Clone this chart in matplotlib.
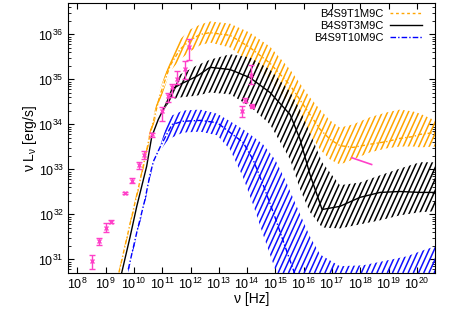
import numpy as np
import matplotlib
matplotlib.use("Agg")
import matplotlib.pyplot as plt
from matplotlib.collections import LineCollection
from matplotlib.lines import Line2D

plt.rcParams['font.family'] = ['Liberation Sans', 'DejaVu Sans']
plt.rcParams['mathtext.default'] = 'regular'

# all values are log10(nu [Hz]) and log10(nu L_nu [erg/s])
# B4S9T1M9C (orange)
t1_x = [9.47, 9.86, 10.22, 10.57, 10.92, 11.28, 11.63, 11.98, 12.34, 12.69, 13.40, 14.10,
        14.81, 15.52, 16.22, 16.58, 16.93, 17.28, 17.74, 18.34, 18.94, 19.40, 19.86, 20.11, 20.64]
t1_hi = [30.76, 31.84, 32.82, 33.89, 34.78, 35.44, 35.89, 36.11, 36.22, 36.29, 36.24, 36.04,
         35.73, 35.22, 34.60, 34.33, 34.09, 33.93, 34.00, 34.16, 34.27, 34.33, 34.29, 34.24, 34.09]
t1_lo = [30.67, 31.71, 32.67, 33.67, 34.51, 35.18, 35.44, 35.62, 35.76, 35.82, 35.71, 35.38,
         35.00, 34.44, 33.78, 33.44, 33.22, 33.11, 33.22, 33.38, 33.47, 33.51, 33.51, 33.49, 33.51]
t1_mid = [30.71, 31.78, 32.76, 33.78, 34.65, 35.31, 35.67, 35.87, 36.00, 36.04, 35.98, 35.71,
          35.36, 34.87, 34.22, 33.89, 33.67, 33.53, 33.49, 33.56, 33.62, 33.69, 33.73, 33.78, 33.82]

# B4S9T3M9C (black)
t3_x = [9.57, 9.86, 10.10, 10.45, 10.63, 10.86, 11.16, 11.34, 11.63, 12.22, 12.69, 13.40,
        14.10, 14.81, 15.52, 15.87, 16.22, 16.65, 17.28, 17.99, 18.70, 19.40, 20.11, 20.64]
t3_mid = [30.71, 31.49, 32.18, 33.07, 33.73, 34.11, 34.49, 34.78, 34.89, 35.07, 35.27, 35.22,
          35.04, 34.71, 34.22, 33.67, 32.89, 32.11, 32.18, 32.38, 32.49, 32.51, 32.49, 32.49]
t3_hi = [30.71, 31.49, 32.18, 33.07, 33.73, 34.11, 34.56, 34.82, 35.11, 35.31, 35.44, 35.56,
         35.49, 35.22, 34.73, 34.33, 33.82, 33.16, 32.65, 32.71, 32.87, 33.02, 33.16, 33.16]
t3_lo = [30.71, 31.49, 32.18, 33.07, 33.73, 34.11, 34.42, 34.56, 34.60, 34.64, 34.71, 34.67,
         34.40, 34.00, 33.22, 32.56, 32.05, 31.71, 31.69, 31.78, 31.87, 31.98, 32.05, 32.07]

# B4S9T10M9C (blue)
t10_x = [9.80, 10.10, 10.39, 10.57, 10.69, 10.92, 11.16, 11.35, 11.73, 12.34, 12.94, 13.40,
         13.86, 14.21, 14.56, 14.99, 15.34, 15.69, 16.22, 16.58, 17.28, 18.10, 18.80, 19.65, 20.11, 20.64]
t10_mid = [30.78, 31.60, 32.33, 32.89, 33.18, 33.49, 33.78, 34.00, 34.07, 34.09, 34.04, 33.82,
           33.60, 33.22, 32.67, 31.93, 31.29, 30.67, 30.20, 30.00, 30.00, 30.00, 30.00, 30.00, 30.00, 30.00]
t10_hi = [30.80, 31.62, 32.35, 32.91, 33.20, 33.51, 34.00, 34.20, 34.31, 34.33, 34.24, 34.07,
          33.89, 33.73, 33.56, 33.22, 32.78, 32.27, 31.51, 31.11, 30.85, 30.87, 30.96, 31.07, 31.18, 31.29]
t10_lo = [30.70, 31.52, 32.25, 32.81, 33.10, 33.41, 33.62, 33.71, 33.82, 33.84, 33.76, 33.44,
          32.82, 32.22, 31.56, 30.78, 30.11, 30.00, 30.00, 30.00, 30.00, 30.00, 30.00, 30.00, 30.00, 30.00]

# observed points (pink)
obs_x = [8.52, 8.78, 9.00, 9.18, 9.70, 9.92, 10.17, 10.36, 10.63, 10.98, 11.19, 11.36,
         11.53, 11.82, 11.94, 13.81, 13.93, 14.13]
obs_y = [30.96, 31.41, 31.71, 31.83, 32.48, 32.74, 33.09, 33.33, 33.78, 34.29, 34.64, 34.84,
         35.00, 35.24, 35.73, 34.29, 34.53, 35.11]
obs_lo = [30.78, 31.33, 31.62, 31.80, 32.45, 32.69, 33.02, 33.24, 33.73, 34.07, 34.49, 34.60,
          34.89, 35.00, 35.44, 34.16, 34.49, 34.89]
obs_hi = [31.11, 31.47, 31.80, 31.87, 32.51, 32.80, 33.16, 33.42, 33.82, 34.38, 34.71, 34.89,
          35.18, 35.40, 35.89, 34.40, 34.58, 35.33]
sq_x, sq_y = [14.16], [34.42]
xray_x = [17.70, 18.40]
xray_y = [33.26, 33.11]

# decade ticks
x_decades = list(range(8, 21))
y_decades = list(range(31, 37))

pink = '#ff40c8'
orange = '#ffa500'
blue = '#0000ff'

fig = plt.figure(figsize=(4.58, 3.21), dpi=100)
ax = fig.add_axes([68 / 458, 1 - 273 / 321, 367 / 458, 270 / 321])
ax.set_xscale('log')
ax.set_yscale('log')
ax.set_xlim(10**7.67, 10**20.64)
ax.set_ylim(5e30, 5e36)


def p(v):
    return 10.0**np.asarray(v)


def hatch(x, lo, hi, color):
    band = ax.fill_between(p(x), p(lo), p(hi), facecolor='none', edgecolor='none', lw=0)
    path = band.get_paths()[0]
    w, h = 367.0, 270.0
    step = 5.2 / w
    run = (h / 2.2) / w
    starts = np.arange(-run, 1 + step, step)
    segs = [[(s, 0), (s + run, 1)] for s in starts]
    lc = LineCollection(segs, colors=color, lw=1.1, transform=ax.transAxes)
    ax.add_collection(lc, autolim=False)
    lc.set_clip_path(path, ax.transData)


hatch(t1_x, t1_lo, t1_hi, orange)
hatch(t3_x, t3_lo, t3_hi, 'black')
hatch(t10_x, t10_lo, t10_hi, '#1010ff')

ax.plot(p(t1_x), p(t1_mid), color=orange, lw=1, ls=(0, (3, 1.5, 1, 1.5)))
ax.plot(p(t3_x), p(t3_mid), color='black', lw=1)
ax.plot(p(t10_x), p(t10_mid), color=blue, lw=1, ls=(0, (4, 1.5, 1, 1.5)))

yerr = [p(obs_y) - p(obs_lo), p(obs_hi) - p(obs_y)]
ax.errorbar(p(obs_x), p(obs_y), yerr=yerr, fmt='x', color=pink, ms=2.5, mew=1,
            elinewidth=1, capsize=2, capthick=1)
ax.plot(p(sq_x), p(sq_y), 's', color=pink, ms=3)
ax.plot(p(xray_x), p(xray_y), color=pink, lw=1.2)

handles = [Line2D([], [], color=orange, lw=1, ls=(0, (2, 2))),
           Line2D([], [], color='black', lw=1),
           Line2D([], [], color=blue, lw=1, ls=(0, (4, 1.5, 1, 1.5)))]
ax.legend(handles, ['B4S9T1M9C', 'B4S9T3M9C', 'B4S9T10M9C'], loc='upper right',
          bbox_to_anchor=(0.965, 0.978), frameon=False, fontsize=8, markerfirst=False,
          handlelength=2.9, handletextpad=0.6, labelspacing=0.2, borderpad=0, borderaxespad=0)

ax.set_xticks(p(x_decades))
ax.set_yticks(p(y_decades))
ax.xaxis.set_minor_locator(matplotlib.ticker.NullLocator())
ax.tick_params(which='both', direction='in', top=True, right=True, labelsize=9)
ax.tick_params(which='major', length=4, width=0.8, pad=3)
ax.tick_params(which='minor', length=2.5, width=0.6)

ax.set_xlabel('ν [Hz]', fontsize=10, va='top')
ax.set_ylabel('ν L$_\\mathregular{ν}$ [erg/s]', fontsize=10)
ax.xaxis.set_label_coords(0.5, -0.072)
ax.yaxis.set_label_coords(-0.08, 0.5)

fig.savefig('out.png', dpi=100)
